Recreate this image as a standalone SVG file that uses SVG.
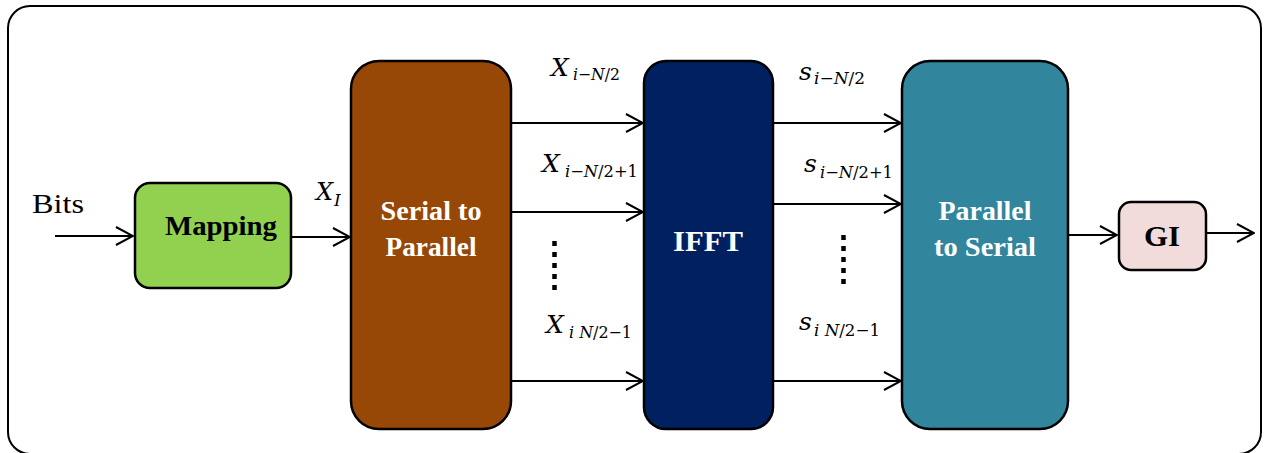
<svg xmlns="http://www.w3.org/2000/svg" width="1266" height="453" viewBox="0 0 1266 453">
  <style>
    .frame { fill: #ffffff; stroke: #000000; stroke-width: 2; }
    .node { stroke: #000000; stroke-width: 2.5; }
    .wire { fill: none; stroke: #000000; stroke-width: 2; marker-end: url(#chev); }
    .dots { fill: none; stroke: #000000; stroke-width: 4.5; stroke-dasharray: 5 6; }
    .lbl { font-family: "Liberation Serif", "DejaVu Serif", serif; font-weight: bold; text-anchor: middle; }
    .white { fill: #ffffff; }
    .dark { fill: #000000; }
    .plain { font-family: "Liberation Serif", "DejaVu Serif", serif; fill: #000000; }
    .math { font-family: "DejaVu Serif", "Liberation Serif", serif; font-style: italic; fill: #000000; }
    .sub { font-family: "DejaVu Serif", "Liberation Serif", serif; font-size: 17px; fill: #000000; }
    .it { font-style: italic; }
  </style>
  <defs>
    <marker id="chev" viewBox="0 0 19 20" refX="18" refY="10" markerWidth="19" markerHeight="20" markerUnits="userSpaceOnUse" orient="auto">
      <path d="M1,1 L18,10 L1,19" fill="none" stroke="#000000" stroke-width="2"/>
    </marker>
  </defs>

  <!-- outer frame -->
  <rect class="frame" x="8" y="6" width="1253" height="448" rx="22" ry="22"/>

  <!-- connectors -->
  <g id="connectors">
    <line class="wire" x1="55" y1="236" x2="133" y2="236"/>
    <line class="wire" x1="291" y1="237" x2="350" y2="237"/>
    <line class="wire" x1="511" y1="123" x2="643" y2="123"/>
    <line class="wire" x1="511" y1="212" x2="643" y2="212"/>
    <line class="wire" x1="511" y1="381" x2="643" y2="381"/>
    <line class="wire" x1="773" y1="123" x2="901" y2="123"/>
    <line class="wire" x1="773" y1="204" x2="901" y2="204"/>
    <line class="wire" x1="773" y1="381" x2="901" y2="381"/>
    <line class="wire" x1="1068" y1="235" x2="1117" y2="235"/>
    <line class="wire" x1="1207" y1="233" x2="1254" y2="233"/>
    <line class="dots" x1="554.5" y1="241" x2="554.5" y2="290"/>
    <line class="dots" x1="843.5" y1="235" x2="843.5" y2="285"/>
  </g>

  <!-- input label -->
  <text class="plain" x="32" y="213" font-size="28" textLength="52" lengthAdjust="spacingAndGlyphs">Bits</text>

  <g id="mapping">
    <rect class="node" x="135" y="183" width="156" height="105" rx="15" ry="15" fill="#92d050"/>
    <text class="lbl dark" x="221" y="235" font-size="27" textLength="112" lengthAdjust="spacingAndGlyphs">Mapping</text>
  </g>

  <!-- mapped symbol -->
  <text class="math" x="316" y="200" font-size="24">X</text>
  <text class="sub it" x="334" y="206" font-size="16">I</text>

  <g id="serial-to-parallel">
    <rect class="node" x="351" y="61" width="160" height="368" rx="28" ry="28" fill="#974706"/>
    <text class="lbl white" x="431" y="220" font-size="27" textLength="101" lengthAdjust="spacingAndGlyphs">Serial to</text>
    <text class="lbl white" x="431" y="256" font-size="27" textLength="91" lengthAdjust="spacingAndGlyphs">Parallel</text>
  </g>

  <!-- parallel input labels -->
  <text class="math" x="551" y="76" font-size="25">X</text>
  <text class="sub" x="573" y="80" textLength="47" lengthAdjust="spacingAndGlyphs"><tspan class="it">i</tspan>−<tspan class="it">N</tspan>/2</text>

  <text class="math" x="542" y="172" font-size="25">X</text>
  <text class="sub" x="565" y="177" textLength="73" lengthAdjust="spacingAndGlyphs"><tspan class="it">i</tspan>−<tspan class="it">N</tspan>/2+1</text>

  <text class="math" x="546" y="333" font-size="25">X</text>
  <text class="sub" x="569" y="338" textLength="63" lengthAdjust="spacingAndGlyphs"><tspan class="it">i</tspan> <tspan class="it">N</tspan>/2−1</text>

  <g id="ifft">
    <rect class="node" x="644" y="61" width="129" height="368" rx="22" ry="22" fill="#002060"/>
    <text class="lbl white" x="708" y="251" font-size="30" textLength="70" lengthAdjust="spacingAndGlyphs">IFFT</text>
  </g>

  <!-- parallel output labels -->
  <text class="math" x="799" y="80" font-size="25">s</text>
  <text class="sub" x="814" y="84" textLength="51" lengthAdjust="spacingAndGlyphs"><tspan class="it">i</tspan>−<tspan class="it">N</tspan>/2</text>

  <text class="math" x="804" y="172" font-size="25">s</text>
  <text class="sub" x="820" y="178" textLength="73" lengthAdjust="spacingAndGlyphs"><tspan class="it">i</tspan>−<tspan class="it">N</tspan>/2+1</text>

  <text class="math" x="799" y="330" font-size="25">s</text>
  <text class="sub" x="814" y="336" textLength="66" lengthAdjust="spacingAndGlyphs"><tspan class="it">i</tspan> <tspan class="it">N</tspan>/2−1</text>

  <g id="parallel-to-serial">
    <rect class="node" x="902" y="61" width="166" height="368" rx="28" ry="28" fill="#31859c"/>
    <text class="lbl white" x="985" y="220" font-size="27" textLength="93" lengthAdjust="spacingAndGlyphs">Parallel</text>
    <text class="lbl white" x="985" y="256" font-size="27" textLength="102" lengthAdjust="spacingAndGlyphs">to Serial</text>
  </g>

  <g id="gi">
    <rect class="node" x="1119" y="202" width="87" height="68" rx="12" ry="12" fill="#f2dcdb"/>
    <text class="lbl dark" x="1162" y="246" font-size="30" textLength="36" lengthAdjust="spacingAndGlyphs">GI</text>
  </g>
</svg>
